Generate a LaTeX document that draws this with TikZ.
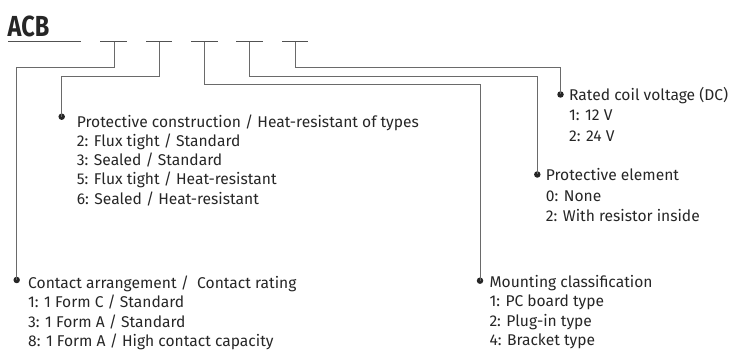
\documentclass[tikz,border=0pt]{standalone}
\usepackage{fontspec}
\usepackage{graphicx}
\setmainfont{Fira Sans}
\definecolor{txt}{HTML}{262626}
\definecolor{ln}{HTML}{6A6A6A}
\begin{document}
\begin{tikzpicture}[x=1pt,y=-1pt,
  lbl/.style={anchor=base west,inner sep=0pt,text=txt,font=\fontsize{15.6}{18}\selectfont},
  dot/.style={circle,fill=txt,minimum size=6.5pt,inner sep=0pt},
  lead/.style={draw=ln,line width=1pt},
  blank/.style={draw=txt!80,line width=1pt}]
\useasboundingbox (0,0) rectangle (734,352);
% title
\node[anchor=base west,inner sep=0pt,text=txt,font=\fontsize{29}{32}\bfseries\selectfont] (acb) at (7.5,36.5) {\scalebox{0.81}[1]{ACB}};
\draw[blank] (8,41.7) -- (81,41.7);
% blanks
\coordinate (d1l) at (100,41.7); \coordinate (d1r) at (127,41.7); \coordinate (d1) at (114,41.7);
\coordinate (d2l) at (146,41.7); \coordinate (d2r) at (172,41.7); \coordinate (d2) at (159,41.7);
\coordinate (d3l) at (191,41.7); \coordinate (d3r) at (218,41.7); \coordinate (d3) at (204.5,41.7);
\coordinate (d4l) at (236,41.7); \coordinate (d4r) at (263,41.7); \coordinate (d4) at (249.5,41.7);
\coordinate (d5l) at (282,41.7); \coordinate (d5r) at (308,41.7); \coordinate (d5) at (295,41.7);
\foreach \i in {1,...,5} \draw[blank] (d\i l) -- (d\i r);
% bullets
\node[dot] (bca) at (16.7,280) {};
\node[dot] (bpc) at (61.7,116.7) {};
\node[dot] (bmc) at (480,280.7) {};
\node[dot] (bpe) at (537.3,174.5) {};
\node[dot] (brc) at (560.5,94.5) {};
% leaders
\draw[lead] (d1) -- (114,67.7) -| (bca.center);
\draw[lead] (d2) -- (159,76.5) -| (bpc.center);
\draw[lead] (d3) -- (204.5,85) -| (bmc.center);
\draw[lead] (d4) -- (249.5,76.5) -| (bpe.center);
\draw[lead] (d5) -- (295,67.7) -| (brc.center);
% Rated coil voltage
\node[lbl] (rc0) at (569,100.5) {Rated coil voltage (DC)};
\node[lbl] (rc1) at (569,120.7) {1: 12 V};
\node[lbl] (rc2) at (569,141.5) {2: 24 V};
% Protective element
\node[lbl] (pe0) at (545.7,181) {Protective element};
\node[lbl] (pe1) at (545.7,201.3) {0: None};
\node[lbl] (pe2) at (545.7,221.6) {2: With resistor inside};
% Protective construction
\node[lbl] (pc0) at (76.7,127.3) {Protective construction / Heat-resistant of types};
\node[lbl] (pc1) at (76.7,146.5) {2: Flux tight / Standard};
\node[lbl] (pc2) at (76.7,165.7) {3: Sealed / Standard};
\node[lbl] (pc3) at (76.7,184.9) {5: Flux tight / Heat-resistant};
\node[lbl] (pc4) at (76.7,204.1) {6: Sealed / Heat-resistant};
% Contact arrangement
\node[lbl] (ca0) at (28,288.5) {Contact arrangement /\ \ Contact rating};
\node[lbl] (ca1) at (28,307.8) {1: 1 Form C / Standard};
\node[lbl] (ca2) at (28,327.1) {3: 1 Form A / Standard};
\node[lbl] (ca3) at (28,346.4) {8: 1 Form A / High contact capacity};
% Mounting classification
\node[lbl] (mc0) at (489.3,287.5) {Mounting classification};
\node[lbl] (mc1) at (489.3,306.8) {1: PC board type};
\node[lbl] (mc2) at (489.3,326.1) {2: Plug-in type};
\node[lbl] (mc3) at (489.3,345.4) {4: Bracket type};
\end{tikzpicture}
\end{document}
